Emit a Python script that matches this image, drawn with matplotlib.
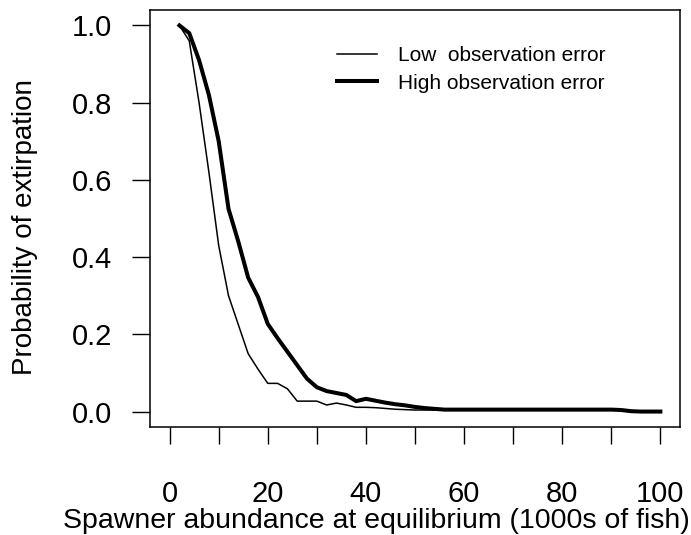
import matplotlib
matplotlib.use('Agg')
import matplotlib.pyplot as plt

plt.rcParams['font.family'] = ['Liberation Sans', 'DejaVu Sans']

# spawner abundance at equilibrium (1000s of fish)
abundance = list(range(2, 101, 2))

low_error = [1.0, 0.96, 0.80, 0.62, 0.43, 0.30, 0.225, 0.15, 0.11, 0.073,
             0.073, 0.059, 0.027, 0.027, 0.027, 0.017, 0.022, 0.017, 0.011, 0.011,
             0.010, 0.008, 0.006, 0.005, 0.004, 0.004, 0.004, 0.004, 0.004, 0.004,
             0.004, 0.004, 0.004, 0.004, 0.004, 0.004, 0.004, 0.004, 0.004, 0.004,
             0.004, 0.004, 0.004, 0.004, 0.004, 0.003, 0.001, 0.0, 0.0, 0.0]

high_error = [1.0, 0.98, 0.91, 0.82, 0.70, 0.525, 0.44, 0.347, 0.297, 0.227,
              0.19, 0.155, 0.12, 0.085, 0.063, 0.053, 0.048, 0.043, 0.027, 0.033,
              0.028, 0.023, 0.019, 0.016, 0.012, 0.009, 0.007, 0.005, 0.005, 0.005,
              0.005, 0.005, 0.005, 0.005, 0.005, 0.005, 0.005, 0.005, 0.005, 0.005,
              0.005, 0.005, 0.005, 0.005, 0.005, 0.004, 0.001, 0.0, 0.0, 0.0]

x_ticks = list(range(0, 101, 10))
x_labels = [str(t) if t % 20 == 0 else '' for t in x_ticks]
y_ticks = [0.0, 0.2, 0.4, 0.6, 0.8, 1.0]

fig = plt.figure(figsize=(6.91, 5.35), dpi=100)
ax = fig.add_axes([150 / 691, 108 / 535, 530 / 691, 417 / 535])

ax.plot(abundance, low_error, color='black', lw=1.1, label='Low  observation error')
ax.plot(abundance, high_error, color='black', lw=2.9, label='High observation error')

ax.set_xlim(-4, 104)
ax.set_ylim(-0.04, 1.04)

ax.set_xticks(x_ticks)
ax.set_xticklabels(x_labels, fontsize=21)
ax.set_yticks(y_ticks)
ax.set_yticklabels(['%.1f' % v for v in y_ticks], fontsize=21)
ax.tick_params(axis='x', direction='out', length=12.5, width=1, pad=26)
ax.tick_params(axis='y', direction='out', length=13, width=1, pad=14.5)
for s in ax.spines.values():
    s.set_linewidth(1.1)

ax.legend(loc='upper left', bbox_to_anchor=(0.353, 0.913), frameon=False,
          fontsize=15, handlelength=1.92, handletextpad=1.0, labelspacing=0.4,
          borderpad=0, borderaxespad=0)

fig.text(376 / 691, 14 / 535, 'Spawner abundance at equilibrium (1000s of fish)',
         fontsize=20.5, ha='center', va='center')
fig.text(25 / 691, 1 - 227 / 535, 'Probability of extirpation',
         fontsize=20, ha='center', va='center', rotation=90)

fig.savefig('out.png', dpi=100)
